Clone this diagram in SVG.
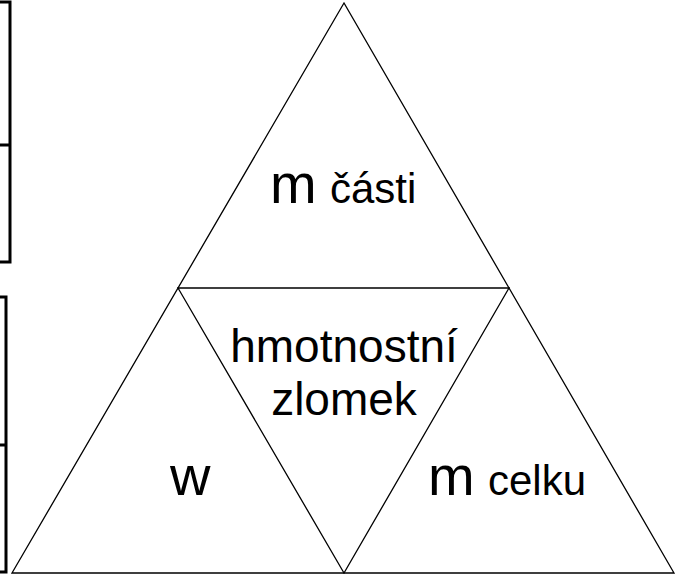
<svg xmlns="http://www.w3.org/2000/svg" width="683" height="575" viewBox="0 0 683 575">
  <style>
    .edge { fill: none; stroke: #000; stroke-width: 1.3; }
    .bar { fill: none; stroke: #000; stroke-width: 3; }
    text { font-family: "Liberation Sans", Arial, sans-serif; fill: #000; }
    .big { font-size: 56px; }
    .small { font-size: 42px; }
    .mid { font-size: 46px; text-anchor: middle; }
  </style>
  <rect width="683" height="575" fill="#fff"/>

  <!-- side brackets at the left edge -->
  <g id="brackets">
    <path class="bar" d="M0,2 H10 V262 H0 M0,145 H10"/>
    <path class="bar" d="M0,297 H6 V572 H0 M0,445 H6"/>
  </g>

  <!-- triangle outline and inner divisions -->
  <g id="connectors">
    <path class="edge" d="M344,3 L12,573 L674,573 Z"/>
    <path class="edge" d="M178,288 L509,288 L344,573 Z"/>
  </g>

  <g id="top">
    <text x="270" y="203" class="big">m</text>
    <text x="330" y="203" class="small">části</text>
  </g>
  <g id="center">
    <text x="344" y="362" class="mid">hmotnostní</text>
    <text x="344" y="415" class="mid">zlomek</text>
  </g>
  <g id="left">
    <text x="170" y="495" class="big">w</text>
  </g>
  <g id="right">
    <text x="428" y="495" class="big">m</text>
    <text x="488" y="495" class="small">celku</text>
  </g>
</svg>
